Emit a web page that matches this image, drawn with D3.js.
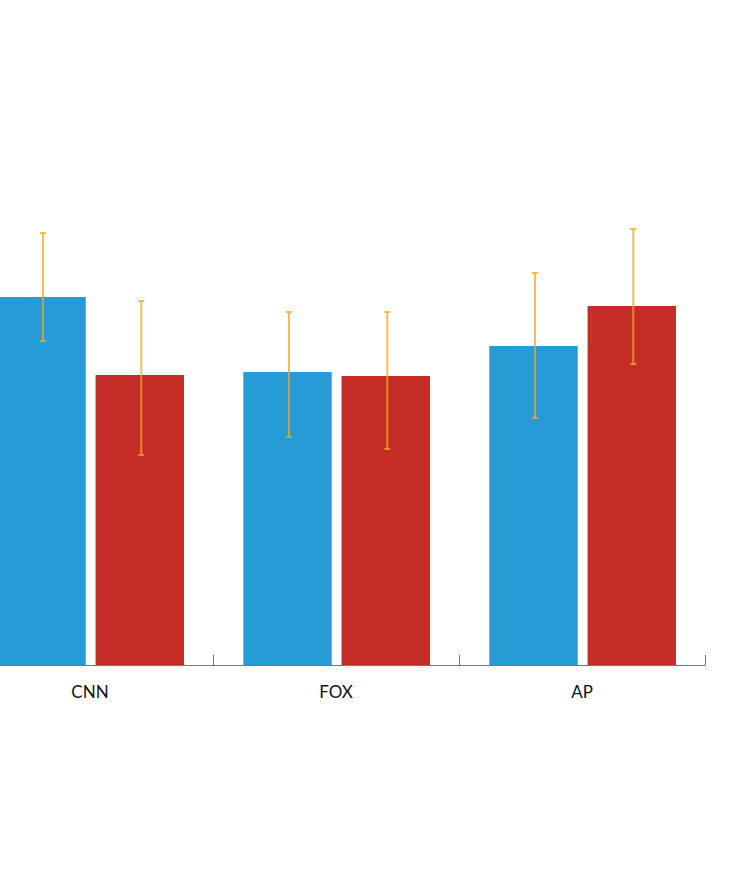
<!DOCTYPE html>
<html>
<head>
<meta charset="utf-8">
<script src="https://cdn.jsdelivr.net/npm/d3@7"></script>
<style>
  html, body { margin: 0; padding: 0; background: #ffffff; }
  svg { display: block; }
</style>
</head>
<body>
<svg id="chart" width="750" height="870"></svg>
<script>
// ---- data ----
const categories = ["CNN", "FOX", "AP"];
const seriesNames = ["blue", "red"];
const blueValues = [3.68, 2.93, 3.19];
const redValues  = [2.90, 2.89, 3.59];
const blueLow  = [3.24, 2.28, 2.47];
const blueHigh = [4.32, 3.53, 3.92];
const redLow   = [2.10, 2.16, 3.01];
const redHigh  = [3.64, 3.53, 4.36];
const seriesColors = ["#279bd6", "#c42d26"];

// ---- layout ----
const width = 750, height = 870;
const baseY = 665;
const svg = d3.select("#chart");
const g = svg.append("g").attr("transform", "translate(-33,0)");

const x0 = d3.scaleBand().domain(categories).range([0, 738]).paddingInner(0).paddingOuter(0);
const x1 = d3.scaleBand().domain(seriesNames).range([30.3, 217]).paddingInner(0.1).paddingOuter(0);
const y = d3.scaleLinear().domain([0, 5]).range([baseY, 165]);
const color = d3.scaleOrdinal().domain(seriesNames).range(seriesColors);

const rows = categories.map((c, i) => ({
  cat: c,
  items: [
    { s: "blue", v: blueValues[i], lo: blueLow[i], hi: blueHigh[i] },
    { s: "red",  v: redValues[i],  lo: redLow[i],  hi: redHigh[i] }
  ]
}));

const groups = g.selectAll("g.grp").data(rows).join("g")
  .attr("class", "grp")
  .attr("transform", d => `translate(${x0(d.cat)},0)`);

groups.selectAll("rect").data(d => d.items).join("rect")
  .attr("x", d => x1(d.s))
  .attr("y", d => y(d.v))
  .attr("width", x1.bandwidth())
  .attr("height", d => y(0) - y(d.v))
  .attr("fill", d => color(d.s));

// error bars
const errColor = "#f5a623";
const capW = 3;
const eb = groups.selectAll("g.err").data(d => d.items).join("g")
  .attr("class", "err")
  .attr("stroke", errColor)
  .attr("stroke-opacity", 0.75)
  .attr("stroke-width", 2)
  .attr("transform", d => `translate(${x1(d.s) + x1.bandwidth() / 2 + 1.5},0)`);
eb.append("line").attr("x1", 0).attr("x2", 0).attr("y1", d => y(d.hi)).attr("y2", d => y(d.lo));
eb.append("line").attr("x1", -capW).attr("x2", capW).attr("y1", d => y(d.hi)).attr("y2", d => y(d.hi));
eb.append("line").attr("x1", -capW).attr("x2", capW).attr("y1", d => y(d.lo)).attr("y2", d => y(d.lo));

// axis: baseline with upward ticks at band boundaries
const axisG = g.append("g").attr("class", "axis");
const [r0, r1] = x0.range();
axisG.append("line")
  .attr("x1", r0).attr("x2", r1)
  .attr("y1", baseY + 0.5).attr("y2", baseY + 0.5)
  .attr("stroke", "#777").attr("stroke-width", 1);
const boundaries = categories.map(c => x0(c) + x0.bandwidth());
axisG.selectAll("line.tick").data(boundaries).join("line")
  .attr("class", "tick")
  .attr("x1", d => d + 0.5).attr("x2", d => d + 0.5)
  .attr("y1", baseY + 0.5).attr("y2", baseY - 10)
  .attr("stroke", "#777").attr("stroke-width", 1);

axisG.selectAll("text").data(categories).join("text")
  .attr("x", d => x0(d) + x0.bandwidth() / 2)
  .attr("y", 698)
  .attr("text-anchor", "middle")
  .attr("font-family", "Lato, 'Open Sans', sans-serif")
  .attr("font-size", 17)
  .attr("fill", "#111")
  .text(d => d);
</script>
</body>
</html>
